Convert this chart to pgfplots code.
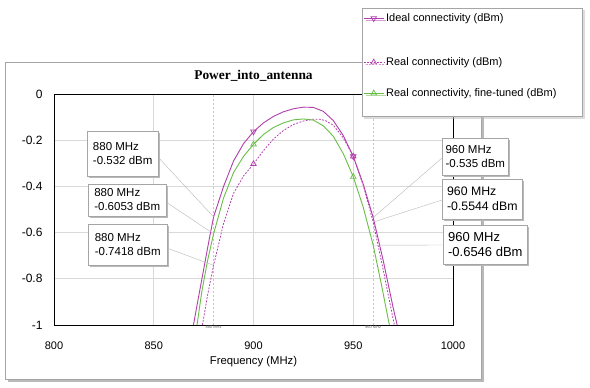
\documentclass[border=0pt]{standalone}
\usepackage{pgfplots}
\pgfplotsset{compat=1.18}
\usepackage{fontspec}
\setmainfont{Liberation Sans}
\newfontfamily\titlefont{Liberation Serif}
\usetikzlibrary{shadows}
\definecolor{cpurple}{RGB}{178,62,172}
\definecolor{cgreen}{RGB}{105,190,70}
\definecolor{frame}{RGB}{165,165,165}

\pgfplotstableread{
f v
869.9 -1.0
872 -0.90
875 -0.76
878 -0.62
880 -0.532
885 -0.40
890 -0.29
895 -0.215
900 -0.163
905 -0.125
910 -0.097
915 -0.077
920 -0.064
925 -0.057
930 -0.058
935 -0.075
940 -0.115
945 -0.18
950 -0.27
955 -0.39
960 -0.535
965 -0.72
970 -0.925
972 -1.0
}\ideal

\pgfplotstableread{
f v
874.4 -1.0
877 -0.87
880 -0.7418
885 -0.56
890 -0.43
895 -0.355
900 -0.303
905 -0.245
910 -0.195
915 -0.158
920 -0.132
925 -0.117
930 -0.109
933 -0.109
936 -0.115
940 -0.135
945 -0.19
950 -0.27
955 -0.395
960 -0.5544
965 -0.76
970.6 -1.0
}\real

\pgfplotstableread{
f v
871.7 -1.0
874 -0.86
877 -0.72
880 -0.6053
885 -0.45
890 -0.34
895 -0.27
900 -0.218
905 -0.175
910 -0.145
915 -0.125
920 -0.112
925 -0.108
930 -0.113
935 -0.138
940 -0.183
945 -0.258
950 -0.358
955 -0.49
960 -0.6546
964 -0.82
968.1 -1.0
}\tuned

\begin{document}
\begin{tikzpicture}
\useasboundingbox (-54pt,-63pt) rectangle (536pt,325pt);
\fill[gray!55] (-46pt,-57pt) rectangle (430pt,260pt);
\draw[frame, fill=white, line width=0.8pt] (-49pt,-54pt) rectangle (427pt,263pt);
\tikzset{callout/.style={draw=frame, fill=white, align=left, inner sep=0pt, line width=0.6pt,
  drop shadow={shadow xshift=2pt, shadow yshift=-2pt, fill=gray!55, opacity=1}}}
\begin{axis}[
  scale only axis, width=399pt, height=231pt,
  xmin=800, xmax=1000, ymin=-1, ymax=0,
  xtick={800,850,900,950,1000}, xticklabels={800,850,900,950,1000},
  ytick={-1,-0.8,-0.6,-0.4,-0.2,0}, yticklabels={-1,-0.8,-0.6,-0.4,-0.2,0},
  grid=major, major grid style={gray!30, line width=0.6pt},
  major tick length=0pt,
  axis line style={black, line width=0.8pt},
  xticklabel style={font=\fontsize{11}{13}\selectfont, yshift=-13pt},
  yticklabel style={font=\fontsize{12}{14}\selectfont, xshift=-8pt},
  xlabel={Frequency (MHz)},
  xlabel style={font=\fontsize{11.3}{13}\selectfont, at={(axis description cs:0.5,0)}, anchor=center, yshift=-37pt},
  title={Power\_into\_antenna},
  title style={font=\titlefont\bfseries\fontsize{13.4}{15}\selectfont, at={(axis description cs:0.5,1)}, anchor=center, yshift=12pt},
  clip=false,
  legend style={at={(0.7719,1.3723)}, anchor=north west, draw=frame, fill=white, line width=0.6pt,
    inner xsep=1pt, inner ysep=0pt, row sep=0pt, column sep=2pt,
    nodes={inner sep=0pt, text depth=}, cells={anchor=base west},
    font=\fontsize{11}{13}\selectfont,
    drop shadow={shadow xshift=2pt, shadow yshift=-2pt, fill=gray!55}},
  legend image code/.code={\draw[#1, mark indices={2}] plot coordinates {(0pt,3.5pt)(10pt,3.5pt)(20pt,3.5pt)};},
]
\draw[gray!45, dash pattern=on 2pt off 2pt, line width=0.5pt] (axis cs:880,-1) -- (axis cs:880,0);
\draw[gray!45, dash pattern=on 2pt off 2pt, line width=0.5pt] (axis cs:960,-1) -- (axis cs:960,0);

\addplot[cpurple, line width=0.9pt, mark=triangle, mark size=3.2pt, mark options={solid, rotate=180, line width=0.7pt}, mark indices={9,19}] table[x=f, y=v] {\ideal};
\addlegendentry{\rule[-36pt]{0pt}{49.5pt}Ideal connectivity (dBm)}
\addplot[cpurple, line width=0.8pt, dash pattern=on 1.8pt off 1.5pt, mark=triangle, mark size=3.2pt, mark options={solid, line width=0.7pt}, mark indices={7,18}] table[x=f, y=v] {\real};
\addlegendentry{\rule[-23pt]{0pt}{31pt}Real connectivity (dBm)}
\addplot[cgreen, line width=0.9pt, mark=triangle, mark size=3.2pt, mark options={solid, line width=0.7pt}, mark indices={8,18}] table[x=f, y=v] {\tuned};
\addlegendentry{\rule[-3pt]{0pt}{11pt}Real connectivity, fine-tuned (dBm)\rule{25pt}{0pt}}
\addlegendimage{empty legend}
\addlegendentry{\rule{0pt}{17pt}}

\node[font=\fontsize{4}{5}\selectfont, text=gray!80!black, anchor=north, inner sep=1pt] at (axis cs:880,-1) {880 MHz};
\node[font=\fontsize{4}{5}\selectfont, text=gray!80!black, anchor=north, inner sep=1pt] at (axis cs:960,-1) {960 MHz};

\draw[gray!55, line width=0.4pt] (axis cs:852.1,-0.2727) -- (axis cs:880,-0.532);
\draw[gray!55, line width=0.4pt] (axis cs:856.1,-0.4675) -- (axis cs:880,-0.6053);
\draw[gray!55, line width=0.4pt] (axis cs:856.6,-0.6667) -- (axis cs:880,-0.7418);
\draw[gray!55, line width=0.4pt] (axis cs:994.5,-0.277) -- (axis cs:960,-0.535);
\draw[gray!55, line width=0.4pt] (axis cs:994.5,-0.459) -- (axis cs:960,-0.5544);
\draw[gray!55, line width=0.4pt] (axis cs:995,-0.6537) -- (axis cs:960,-0.6546);

\node[callout, anchor=west, minimum width=71pt, minimum height=45pt, font=\fontsize{11.5}{14}\selectfont] at (axis cs:816.5,-0.2576) {880 MHz\\-0.532 dBm};
\node[callout, anchor=west, minimum width=78pt, minimum height=32pt, font=\fontsize{11.5}{14}\selectfont] at (axis cs:817.0,-0.4589) {880 MHz\\-0.6053 dBm};
\node[callout, anchor=west, minimum width=79pt, minimum height=41pt, font=\fontsize{11.5}{14}\selectfont] at (axis cs:817.0,-0.6515) {880 MHz\\-0.7418 dBm};
\node[callout, anchor=west, minimum width=66pt, minimum height=37pt, font=\fontsize{11.5}{14}\selectfont] at (axis cs:994.5,-0.2706) {960 MHz\\-0.535 dBm};
\node[callout, anchor=west, minimum width=80pt, minimum height=40pt, font=\fontsize{12.3}{14.5}\selectfont] at (axis cs:994.5,-0.4545) {960 MHz\\-0.5544 dBm};
\node[callout, anchor=west, minimum width=84pt, minimum height=39pt, font=\fontsize{13}{15}\selectfont] at (axis cs:995.0,-0.6515) {960 MHz\\-0.6546 dBm};
\end{axis}
\end{tikzpicture}
\end{document}
